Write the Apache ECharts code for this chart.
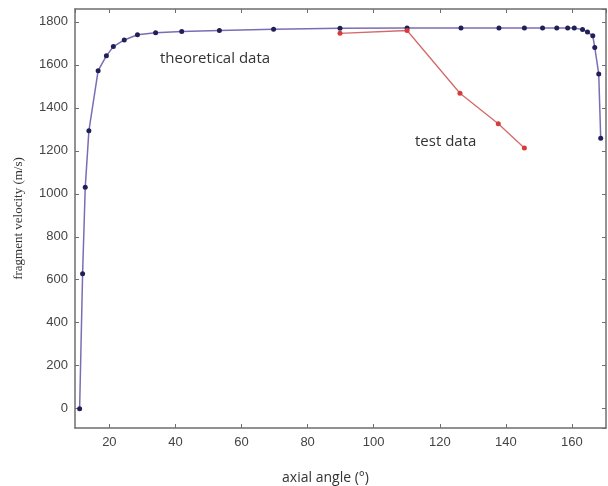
<!DOCTYPE html>
<html>
<head>
<meta charset="utf-8">
<script src="https://cdn.jsdelivr.net/npm/echarts@6/dist/echarts.min.js"></script>
<style>html,body{margin:0;padding:0;background:#fff}#c{width:608px;height:486px}</style>
</head>
<body>
<div id="c"></div>
<script>
var theoryAngles = [11.0, 11.9, 12.7, 13.8, 16.6, 19.1, 21.2, 24.5, 28.5, 34.0, 41.9, 53.3, 69.7, 89.8, 110.1, 126.4, 137.9, 145.6, 151.1, 155.4, 158.7, 160.7, 163.2, 164.7, 166.3, 166.9, 168.1, 168.7];
var theoryVel    = [0, 628, 1030, 1293, 1573, 1642, 1685, 1716, 1740, 1750, 1755, 1760, 1766, 1770, 1772, 1772, 1772, 1772, 1772, 1772, 1772, 1771, 1765, 1753, 1735, 1681, 1558, 1259];
var testAngles = [89.8, 110.1, 126.1, 137.7, 145.6];
var testVel    = [1747, 1760, 1468, 1326, 1213];
var xRange = [9.6, 170.3];
var yRange = [-90, 1860];

function pairs(a, b) { return a.map(function (v, i) { return [v, b[i]]; }); }

var axisGray = '#6e6e6e';
var labelStyle = { color: '#444', fontFamily: 'Liberation Sans, Arial, sans-serif', fontSize: 13, formatter: function (v) { return String(v); } };
function line() { return { show: true, onZero: false, lineStyle: { color: axisGray, width: 1.5 } }; }
function tick() { return { show: true, inside: true, length: 4, lineStyle: { color: axisGray } }; }
var chart = echarts.init(document.getElementById('c'), null, { renderer: 'canvas' });
chart.setOption({
  backgroundColor: '#fff',
  animation: false,
  grid: { left: 75, right: 2, top: 9, bottom: 58, containLabel: false, outerBoundsMode: 'none' },
  xAxis: [{
    type: 'value', min: xRange[0], max: xRange[1], splitNumber: 8,
    name: 'axial angle (°)', nameLocation: 'middle', nameGap: 43,
    nameTextStyle: { color: '#333', fontFamily: 'Open Sans, sans-serif', fontSize: 14, padding: [0, 30, 0, 0] },
    axisLine: line(), axisTick: tick(),
    axisLabel: Object.assign({ showMinLabel: false, showMaxLabel: false, margin: 8 }, labelStyle),
    splitLine: { show: false }
  }, {
    type: 'value', position: 'top', min: xRange[0], max: xRange[1], splitNumber: 8,
    axisLine: line(), axisTick: tick(),
    axisLabel: { show: false }, splitLine: { show: false }
  }],
  yAxis: [{
    type: 'value', min: yRange[0], max: yRange[1], splitNumber: 10,
    name: 'fragment velocity (m/s)', nameLocation: 'middle', nameGap: 50, nameRotate: 90,
    nameTextStyle: { color: '#333', fontFamily: 'Liberation Serif, Times New Roman, serif', fontSize: 13 },
    axisLine: line(), axisTick: tick(),
    axisLabel: Object.assign({ showMinLabel: false, showMaxLabel: false, margin: 7 }, labelStyle),
    splitLine: { show: false }
  }, {
    type: 'value', position: 'right', min: yRange[0], max: yRange[1], splitNumber: 10,
    axisLine: line(), axisTick: tick(),
    axisLabel: { show: false }, splitLine: { show: false }
  }],
  series: [{
    name: 'theoretical data', type: 'line', data: pairs(theoryAngles, theoryVel),
    symbol: 'circle', symbolSize: 5,
    lineStyle: { color: '#7b6db3', width: 1.5 },
    itemStyle: { color: '#202058' },
    z: 3
  }, {
    name: 'test data', type: 'line', data: pairs(testAngles, testVel),
    symbol: 'circle', symbolSize: 5,
    lineStyle: { color: '#d46a6a', width: 1.3 },
    itemStyle: { color: '#d63a3a' },
    z: 4
  }],
  graphic: [{
    type: 'text', left: 160, top: 51,
    style: { text: 'theoretical data', fill: '#333', font: '15px "Open Sans", sans-serif' }
  }, {
    type: 'text', left: 415, top: 134,
    style: { text: 'test data', fill: '#333', font: '15px "Open Sans", sans-serif' }
  }]
});
</script>
</body>
</html>
